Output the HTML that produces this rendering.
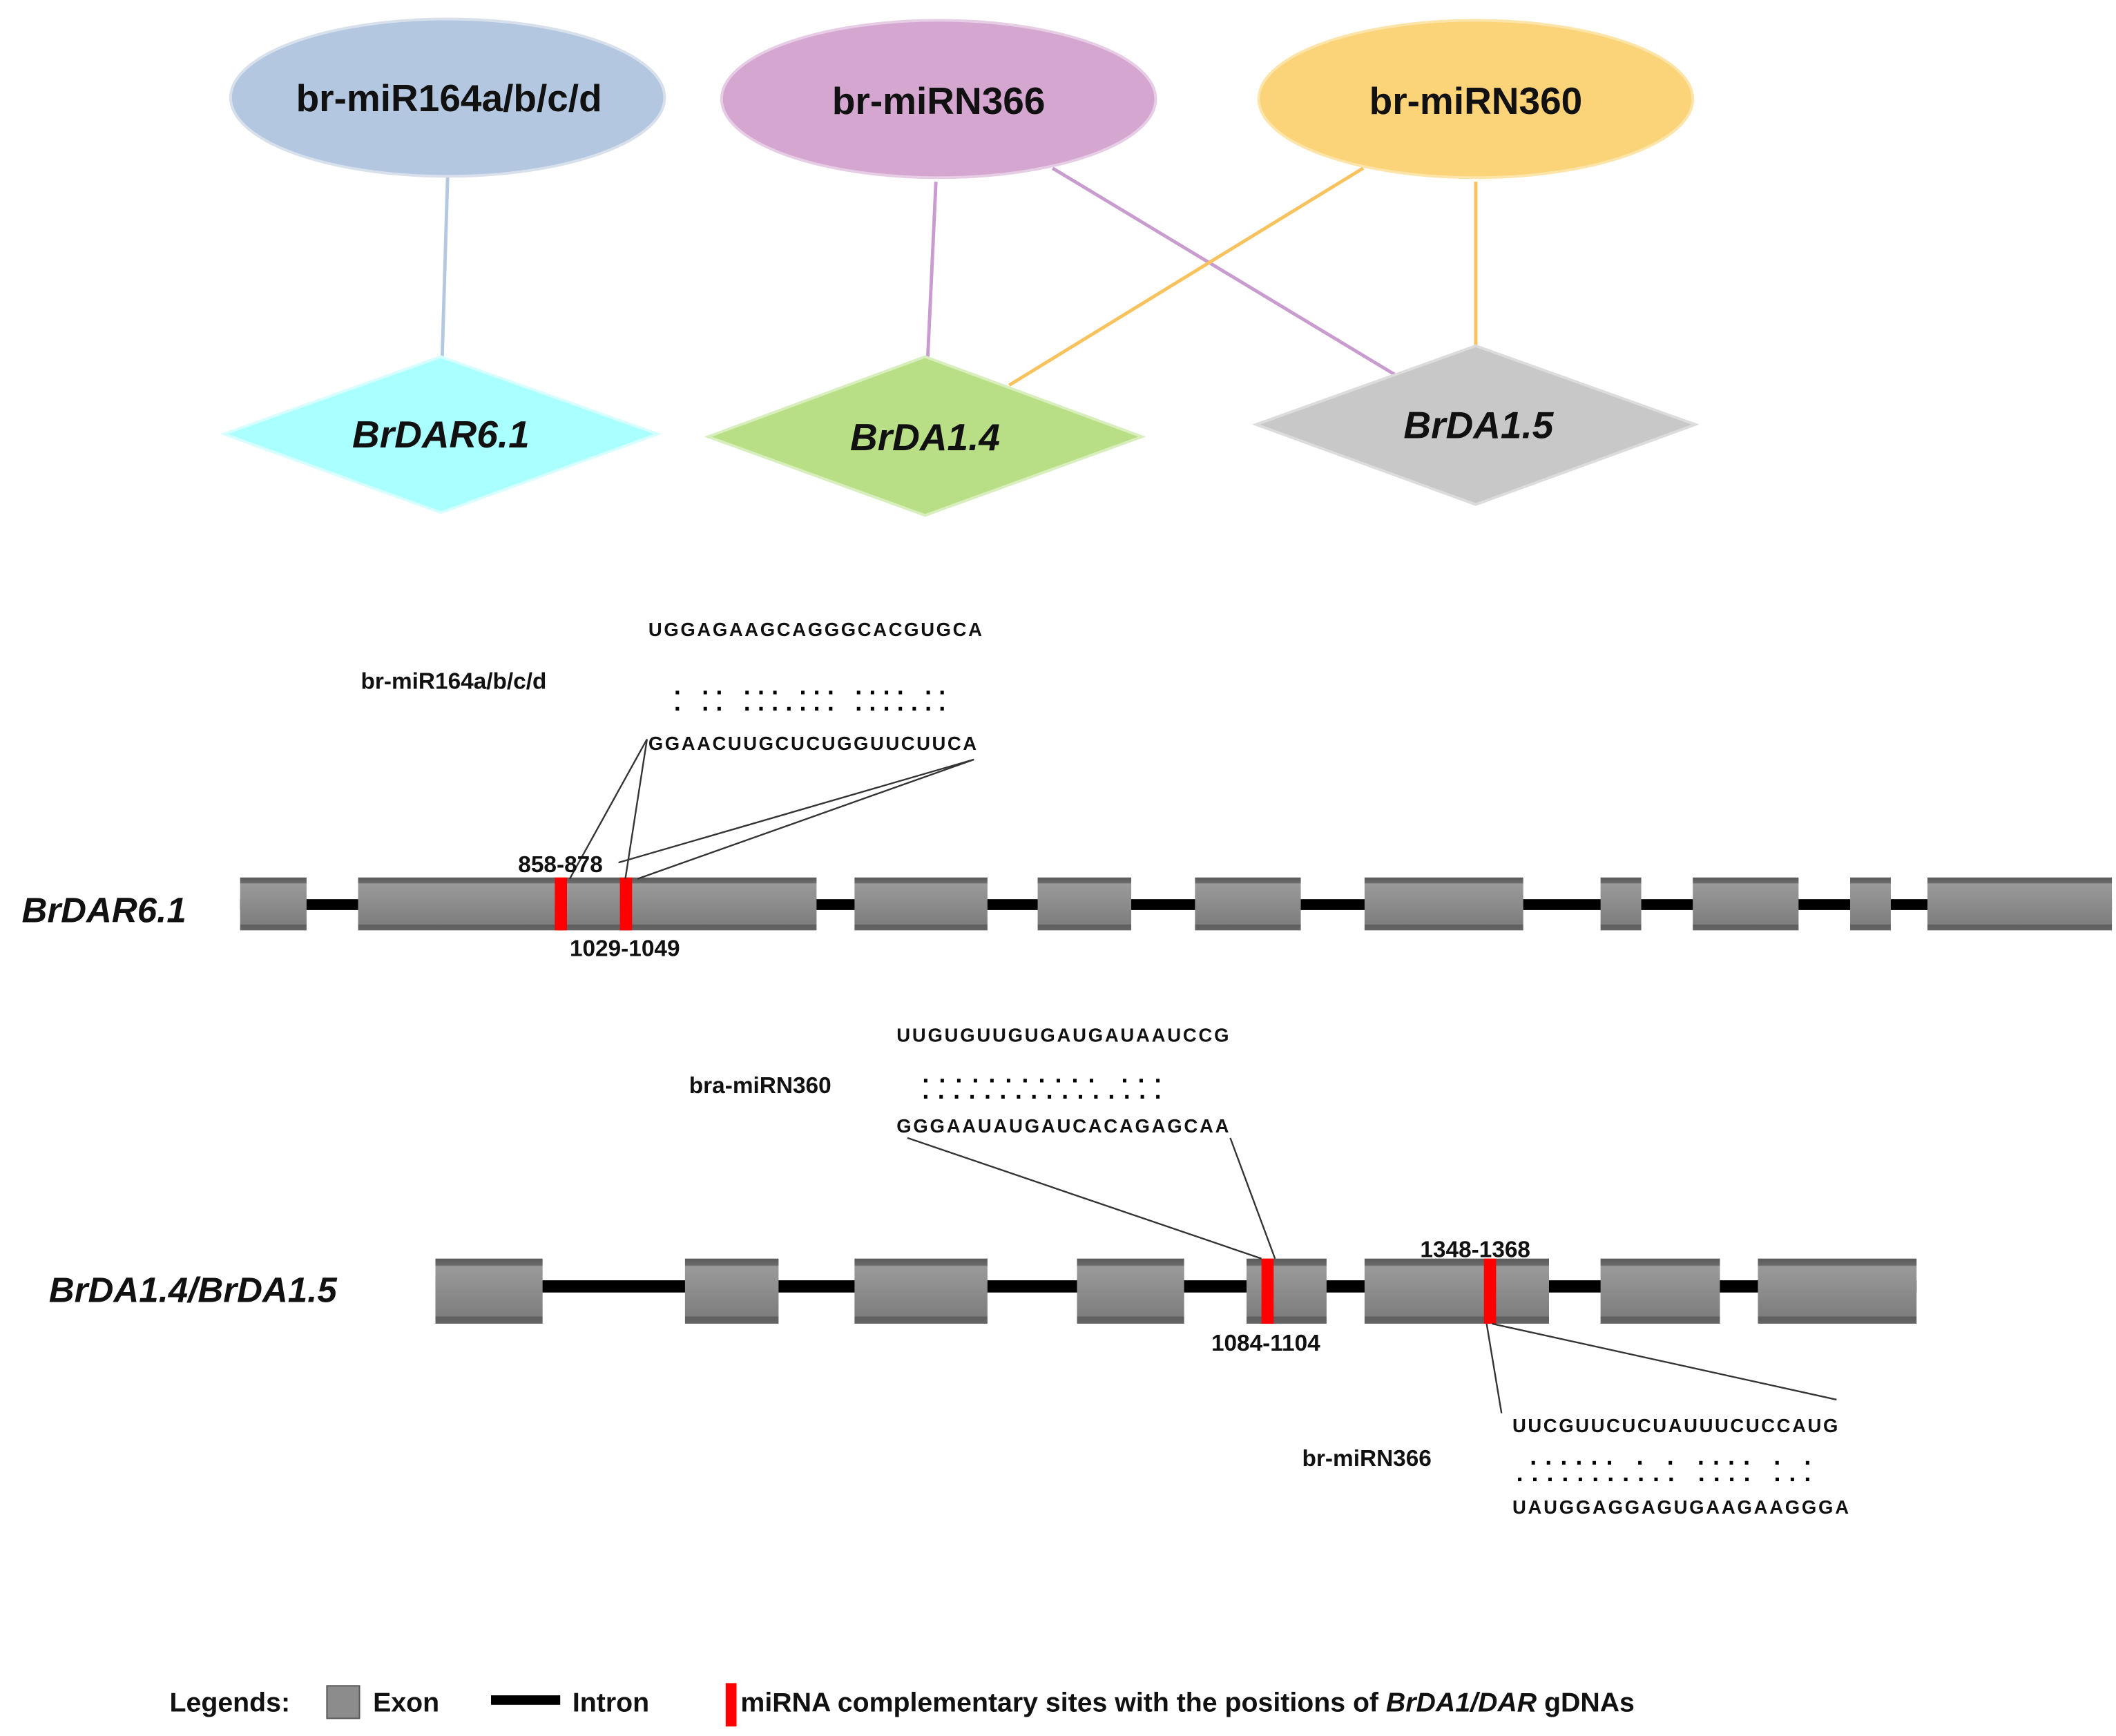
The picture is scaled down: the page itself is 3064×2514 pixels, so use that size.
<!DOCTYPE html>
<html><head><meta charset="utf-8"><style>html,body{margin:0;padding:0;background:#fff}svg{display:block}</style></head>
<body>
<svg width="3064" height="2514" viewBox="0 0 1560 1280" xmlns="http://www.w3.org/2000/svg" font-family="Liberation Sans, sans-serif">
<defs>
<linearGradient id="ex" x1="0" y1="0" x2="0" y2="1">
<stop offset="0" stop-color="#5a5a5a"/><stop offset="0.1" stop-color="#6a6a6a"/><stop offset="0.12" stop-color="#9a9a9a"/><stop offset="0.88" stop-color="#7e7e7e"/><stop offset="0.9" stop-color="#5e5e5e"/><stop offset="1" stop-color="#666"/>
</linearGradient>
</defs>
<!-- network edges -->
<g stroke-width="2.5" fill="none">
<line x1="330" y1="130" x2="326" y2="263" stroke="#b5c8e2"/>
<line x1="690" y1="134" x2="684" y2="263" stroke="#c99ccf"/>
<line x1="776" y1="124" x2="1028" y2="276" stroke="#c99ccf"/>
<line x1="1005" y1="124" x2="744" y2="284" stroke="#f8c35e"/>
<line x1="1088" y1="134" x2="1088" y2="255" stroke="#f8c35e"/>
</g>
<ellipse cx="330" cy="72" rx="160" ry="58" fill="#b4c7e0" stroke="#d8e0ec" stroke-width="2"/>
<ellipse cx="692" cy="73" rx="160" ry="58" fill="#d4a6d0" stroke="#e6cce4" stroke-width="2"/>
<ellipse cx="1088" cy="73" rx="160" ry="58" fill="#fbd378" stroke="#fde4a8" stroke-width="2"/>
<g font-weight="bold" font-size="28" text-anchor="middle" fill="#111">
<text x="331" y="82">br-miR164a/b/c/d</text>
<text x="692" y="84">br-miRN366</text>
<text x="1088" y="84">br-miRN360</text>
</g>
<polygon points="325,263 485,320 325,378 165,320" fill="#aaffff" stroke="#d8ffff" stroke-width="2"/>
<polygon points="682,263 842,322 682,380 522,322" fill="#b8de86" stroke="#d8eebc" stroke-width="2"/>
<polygon points="1088,255 1250,313 1088,372 926,313" fill="#c8c8c8" stroke="#dcdcdc" stroke-width="2"/>
<g font-weight="bold" font-style="italic" font-size="28" text-anchor="middle" fill="#111">
<text x="325" y="330">BrDAR6.1</text>
<text x="682" y="332">BrDA1.4</text>
<text x="1090" y="323">BrDA1.5</text>
</g>

<!-- Gene 1 -->
<text x="16" y="680" font-weight="bold" font-style="italic" font-size="26" fill="#111">BrDAR6.1</text>
<rect x="177" y="663" width="1380" height="8" fill="#000"/>
<g fill="url(#ex)">
<rect x="177" y="647" width="49" height="39"/><rect x="264" y="647" width="338" height="39"/><rect x="630" y="647" width="98" height="39"/><rect x="765" y="647" width="69" height="39"/><rect x="881" y="647" width="78" height="39"/><rect x="1006" y="647" width="117" height="39"/><rect x="1180" y="647" width="30" height="39"/><rect x="1248" y="647" width="78" height="39"/><rect x="1364" y="647" width="30" height="39"/><rect x="1421" y="647" width="136" height="39"/>
</g>
<rect x="409" y="647" width="9" height="39" fill="#f00"/>
<rect x="457" y="647" width="9" height="39" fill="#f00"/>
<g stroke="#333" stroke-width="1.2">
<line x1="477" y1="545" x2="420" y2="648"/><line x1="477" y1="545" x2="461" y2="648"/>
<line x1="718" y1="560" x2="456" y2="636"/><line x1="718" y1="560" x2="470" y2="648"/>
</g>
<g font-weight="bold" fill="#111">
<text x="382" y="643" font-size="17">858-878</text>
<text x="420" y="705" font-size="17">1029-1049</text>
<text x="266" y="508" font-size="17">br-miR164a/b/c/d</text>
<text x="478" y="469" font-size="14" textLength="246">UGGAGAAGCAGGGCACGUGCA</text>
<text x="478" y="553" font-size="14" textLength="242">GGAACUUGCUCUGGUUCUUCA</text>
</g>
<g font-family="Liberation Mono, monospace" font-weight="bold" font-size="18" fill="#000" xml:space="preserve">
<text x="494" y="512" textLength="206">. .. ... ... .... ..</text>
<text x="494" y="524" textLength="206">. .. ....... .......</text>
<text x="677" y="798" textLength="182">...........  ...</text>
<text x="677" y="810" textLength="182">................</text>
<text x="1125" y="1080" textLength="213">...... . . .... . .</text>
<text x="1115" y="1092" textLength="223">........... .... ...</text>
</g>

<!-- Gene 2 -->
<text x="36" y="960" font-weight="bold" font-style="italic" font-size="26" fill="#111">BrDA1.4/BrDA1.5</text>
<rect x="321" y="944" width="1092" height="9" fill="#000"/>
<g fill="url(#ex)">
<rect x="321" y="928" width="79" height="48"/><rect x="505" y="928" width="69" height="48"/><rect x="630" y="928" width="98" height="48"/><rect x="794" y="928" width="79" height="48"/><rect x="919" y="928" width="59" height="48"/><rect x="1006" y="928" width="136" height="48"/><rect x="1180" y="928" width="88" height="48"/><rect x="1296" y="928" width="117" height="48"/>
</g>
<rect x="930" y="928" width="9" height="48" fill="#f00"/>
<rect x="1094" y="928" width="9" height="48" fill="#f00"/>
<g stroke="#333" stroke-width="1.2">
<line x1="669" y1="839" x2="930" y2="928"/><line x1="907" y1="839" x2="940" y2="928"/>
<line x1="1096" y1="976" x2="1107" y2="1042"/><line x1="1100" y1="976" x2="1354" y2="1032"/>
</g>
<g font-weight="bold" fill="#111">
<text x="1047" y="927" font-size="17">1348-1368</text>
<text x="893" y="996" font-size="17">1084-1104</text>
<text x="508" y="806" font-size="17">bra-miRN360</text>
<text x="960" y="1081" font-size="17">br-miRN366</text>
<text x="661" y="768" font-size="14" textLength="245">UUGUGUUGUGAUGAUAAUCCG</text>
<text x="661" y="835" font-size="14" textLength="245">GGGAAUAUGAUCACAGAGCAA</text>
<text x="1115" y="1056" font-size="14" textLength="240">UUCGUUCUCUAUUUCUCCAUG</text>
<text x="1115" y="1116" font-size="14" textLength="248">UAUGGAGGAGUGAAGAAGGGA</text>
</g>

<!-- Legend -->
<g font-weight="bold" font-size="20" fill="#111">
<text x="125" y="1262">Legends:</text>
<text x="275" y="1262">Exon</text>
<text x="422" y="1262">Intron</text>
<text x="546" y="1262">miRNA complementary sites with the positions of <tspan font-style="italic">BrDA1/DAR</tspan> gDNAs</text>
</g>
<rect x="241" y="1243" width="24" height="24" fill="#8c8c8c" stroke="#555" stroke-width="1"/>
<rect x="362" y="1250" width="51" height="7" fill="#000"/>
<rect x="535" y="1241" width="8" height="32" fill="#f00"/>
</svg>
</body></html>
